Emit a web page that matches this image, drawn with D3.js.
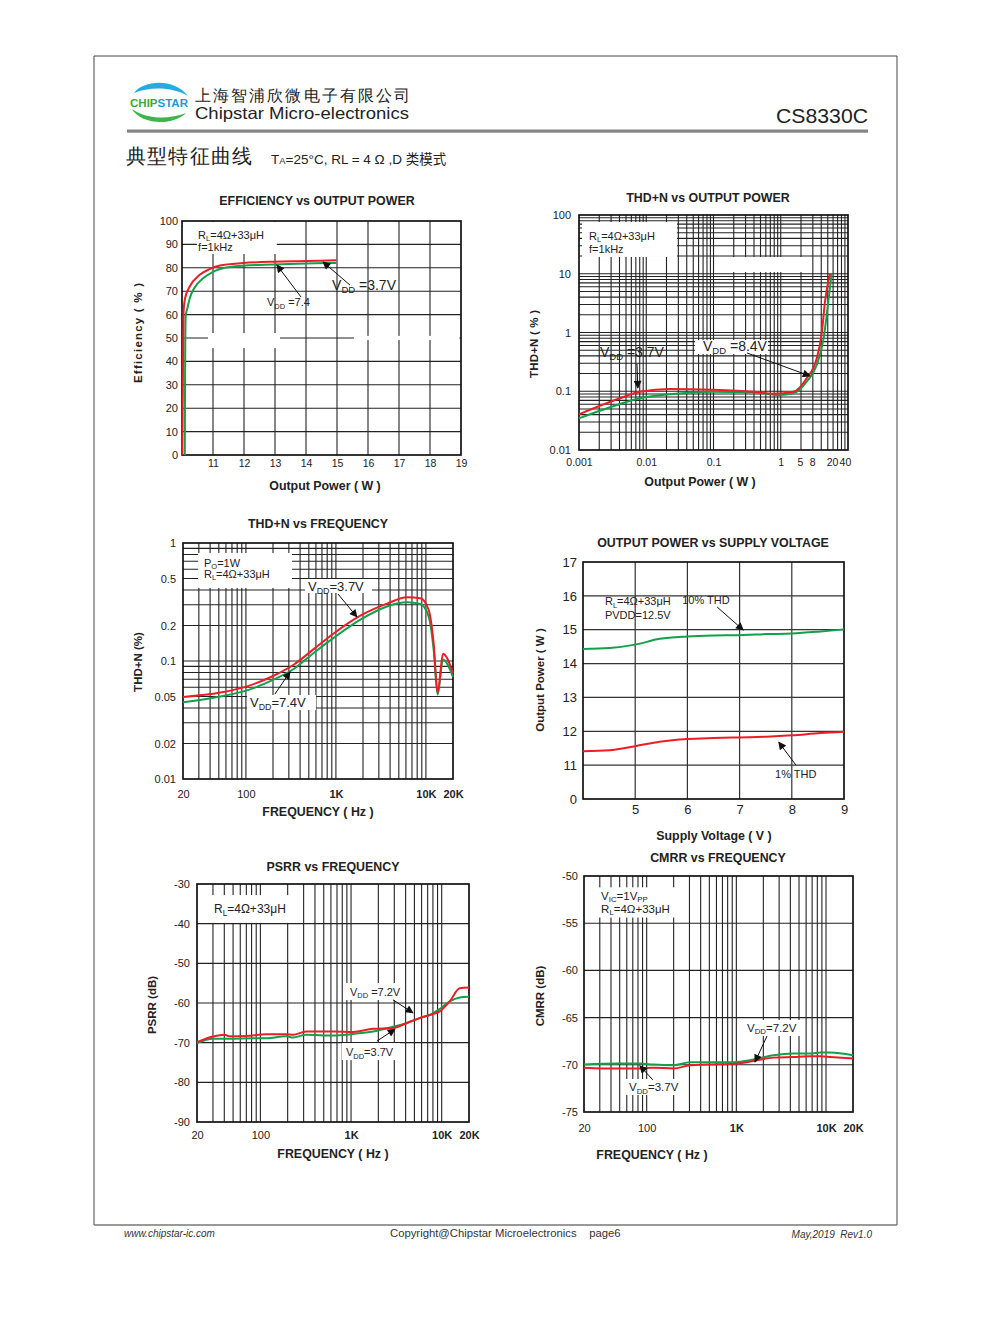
<!DOCTYPE html>
<html><head><meta charset="utf-8">
<script src="https://cdn.jsdelivr.net/npm/d3@7"></script>
<style>body{margin:0;background:#fff}svg{display:block}text{font-family:"Liberation Sans",Arial,sans-serif}</style>
</head><body><svg id="c" width="991" height="1320"></svg>
<script>
// ---------- DATA ----------
// Chart 1: Efficiency vs Output Power
const effXTicks = [11,12,13,14,15,16,17,18,19];
const effYTicks = [0,10,20,30,40,50,60,70,80,90,100];
const effRed = [[10.01,0],[10.03,35],[10.05,61],[10.1,67],[10.25,72],[10.57,77],[10.89,79.4],[11.22,81],[11.97,82],[12.94,82.6],[14.0,82.9],[14.98,83.2]];
const effGreen = [[10.09,0],[10.1,35],[10.12,59.6],[10.17,62.5],[10.25,67],[10.41,71.6],[10.68,75.5],[11.0,78.3],[11.42,80.1],[11.97,80.9],[12.94,81.4],[14.0,81.8],[14.98,82.1]];

// Chart 2: THD+N vs Output Power
const thdpXTicks = [0.001,0.01,0.1,1,1.93,2.92,5.78,9.0];
const thdpXLabels = ["0.001","0.01","0.1","1","5","8","20","40"];
const thdpYTicks = [0.01,0.1,1,10,100];
const thdpYLabels = ["0.01","0.1","1","10","100"];
const thdpRed = [[0.001,0.0405],[0.00407,0.0759],[0.00807,0.098],[0.0225,0.109],[0.094,0.106],[0.391,0.098],[0.774,0.0908],[1.54,0.098],[2.43,0.166],[3.43,0.364],[4.07,0.969],[4.55,3.34],[5.4,10.2]];
const thdpGreen = [[0.001,0.0346],[0.00407,0.0607],[0.00807,0.0759],[0.0225,0.0887],[0.094,0.098],[0.391,0.096],[0.975,0.0863],[1.54,0.0922],[2.43,0.146],[3.43,0.28],[4.34,0.796],[5.09,3.34],[5.72,10.2]];

// Chart 3: THD+N vs Frequency
const freqTicks = [20,100,1000,10000,20000];
const freqLabels = ["20","100","1K","10K","20K"];
const thdfYTicks = [0.01,0.02,0.05,0.1,0.2,0.5,1];
const thdfYLabels = ["0.01","0.02","0.05","0.1","0.2","0.5","1"];
const thdfRed = [[20,0.0495],[52,0.054],[103,0.061],[203,0.075],[339,0.093],[566,0.126],[944,0.171],[1867,0.242],[3696,0.306],[6170,0.347],[8670,0.341],[10720,0.272],[12190,0.142],[13500,0.054],[15480,0.115],[20000,0.079]];
const thdfGreen = [[20,0.0447],[52,0.050],[103,0.0564],[203,0.0695],[339,0.0855],[566,0.117],[944,0.157],[1867,0.224],[3696,0.29],[6170,0.314],[8670,0.304],[10720,0.239],[12190,0.125],[13500,0.0519],[15480,0.103],[20000,0.073]];

// Chart 4: Output Power vs Supply Voltage
const opXTicks = [5,6,7,8,9];
const opYTicks = [10,11,12,13,14,15,16,17];
const opYLabels = ["0","11","12","13","14","15","16","17"];
const opVolt = [4,4.51,5.0,5.47,6.0,6.5,7.0,7.52,8.0,8.55,9.0];
const op10 = [14.43,14.46,14.56,14.73,14.8,14.83,14.84,14.87,14.89,14.95,15.01];
const op1 = [11.41,11.44,11.56,11.69,11.77,11.80,11.82,11.84,11.88,11.95,11.99];

// Chart 5: PSRR vs Frequency
const psrrYTicks = [-90,-80,-70,-60,-50,-40,-30];
const psrrRed = [[20,-69.86],[30,-68.43],[40.4,-68.0],[45.8,-68.4],[70,-68.3],[116,-67.9],[193,-67.9],[229,-68.0],[321,-67.2],[633,-67.2],[1052,-67.3],[1747,-66.5],[2903,-66.3],[4074,-65.1],[5714,-63.8],[8017,-62.8],[9500,-62.1],[12250,-59.6],[15780,-56.3],[20000,-56.1]];
const psrrGreen = [[20,-70.1],[30,-69.0],[45.8,-69.0],[84,-68.9],[116,-68.9],[193,-68.4],[229,-68.7],[321,-68.0],[633,-68.2],[1052,-67.8],[1747,-67.2],[2903,-66.0],[4074,-65.1],[5714,-63.8],[8017,-62.6],[9500,-61.5],[12250,-59.6],[15780,-58.6],[20000,-58.4]];

// Chart 6: CMRR vs Frequency
const cmrrYTicks = [-75,-70,-65,-60,-55,-50];
const cmrrGreen = [[20,-69.98],[46,-69.87],[84,-69.87],[119,-69.98],[199,-70.05],[305,-69.73],[469,-69.73],[929,-69.73],[1555,-69.45],[2601,-68.99],[4350,-68.81],[6672,-68.81],[8630,-68.7],[11160,-68.7],[20000,-68.99]];
const cmrrRed = [[20,-70.3],[46,-70.4],[84,-70.4],[119,-70.3],[199,-70.4],[305,-70.05],[469,-69.98],[929,-69.9],[1555,-69.6],[2601,-69.24],[4350,-69.17],[6672,-69.1],[8630,-69.1],[11160,-69.17],[20000,-69.34]];

// ---------- DRAW ----------
const RED = "#ee1d25", GREEN = "#13a04a";
const svg = d3.select("#c");
const defs = svg.append("defs");
defs.append("marker").attr("id","ah").attr("viewBox","0 0 10 10").attr("refX",9).attr("refY",5)
  .attr("markerWidth",10).attr("markerHeight",8).attr("markerUnits","userSpaceOnUse").attr("orient","auto")
  .append("path").attr("d","M0,0L10,5L0,10Z").attr("fill","#111");

function rich(g, x, y, str, size, opt){
  opt = opt || {};
  const t = g.append("text").attr("x",x).attr("y",y).attr("font-size",size)
    .attr("text-anchor",opt.anchor||"start").attr("font-weight",opt.weight||"normal")
    .attr("fill",opt.fill||"#222");
  const parts = str.split(/(_\{[^}]*\})/).filter(s=>s.length);
  let shifted = false;
  parts.forEach(p=>{
    if (p.startsWith("_{")) {
      t.append("tspan").attr("font-size",size*0.68).attr("dy",size*0.22).text(p.slice(2,-1));
      shifted = true;
    } else {
      const ts = t.append("tspan").text(p);
      if (shifted) { ts.attr("dy",-size*0.22); shifted = false; }
    }
  });
  return t;
}

function chart(o){
  const g = svg.append("g");
  const x = o.x, y = o.y;
  const [x0,x1] = x.range(), [y0,y1] = y.range();
  g.append("g").selectAll("line").data(o.gridX).join("line")
    .attr("x1",d=>x(d)).attr("x2",d=>x(d)).attr("y1",y0).attr("y2",y1)
    .attr("stroke",o.gridColor||"#222").attr("stroke-width",o.gridW||1.1);
  g.append("g").selectAll("line").data(o.gridY).join("line")
    .attr("y1",d=>y(d)).attr("y2",d=>y(d)).attr("x1",x0).attr("x2",x1)
    .attr("stroke",o.gridColor||"#222").attr("stroke-width",o.gridW||1.1);
  (o.boxes||[]).forEach(b=>{
    g.append("rect").attr("x",x(b[0])).attr("y",y(b[1])).attr("width",x(b[2])-x(b[0])).attr("height",y(b[3])-y(b[1])).attr("fill","#fff");
  });
  g.append("rect").attr("x",x0).attr("y",y1).attr("width",x1-x0).attr("height",y0-y1)
    .attr("fill","none").attr("stroke","#111").attr("stroke-width",1.7);
  const line = d3.line().x(d=>x(d[0])).y(d=>y(d[1])).curve(d3.curveMonotoneX);
  o.series.forEach(s=>{
    g.append("path").attr("d",line(s.data)).attr("fill","none").attr("stroke",s.color).attr("stroke-width",2);
  });
  const ax = g.append("g").attr("transform",`translate(0,${y0})`)
    .call(d3.axisBottom(x).tickValues(o.xTicks).tickFormat((d,i)=>o.xLabels[i]).tickSize(0).tickPadding(o.xPad));
  ax.select(".domain").remove();
  ax.selectAll("text").attr("font-size",o.xFont||11).attr("fill","#222")
    .attr("font-family","Liberation Sans, Arial, sans-serif")
    .attr("font-weight",(d,i)=>o.xBold && o.xBold[i] ? "bold":"normal");
  const ay = g.append("g").attr("transform",`translate(${x0},0)`)
    .call(d3.axisLeft(y).tickValues(o.yTicks).tickFormat((d,i)=>o.yLabels[i]).tickSize(0).tickPadding(o.yPad));
  ay.select(".domain").remove();
  ay.selectAll("text").attr("font-size",o.yFont||11).attr("fill","#222")
    .attr("font-family","Liberation Sans, Arial, sans-serif");
  g.append("text").attr("x",o.title[1]).attr("y",o.title[2]).attr("text-anchor","middle")
    .attr("font-size",12.4).attr("font-weight","bold").attr("fill","#222").text(o.title[0]);
  g.append("text").attr("x",o.xTitle[1]).attr("y",o.xTitle[2]).attr("text-anchor","middle")
    .attr("font-size",12.4).attr("font-weight","bold").attr("fill","#222").attr("xml:space","preserve").text(o.xTitle[0]);
  const yt = g.append("text").attr("transform",`translate(${o.yTitle[1]},${o.yTitle[2]}) rotate(-90)`).attr("text-anchor","middle")
    .attr("font-size",11.5).attr("font-weight","bold").attr("fill","#222").text(o.yTitle[0]);
  if (o.yTitle[3]) yt.attr("textLength",o.yTitle[3]).attr("lengthAdjust","spacing");
  (o.notes||[]).forEach(n=>rich(g, x(n.x), y(n.y), n.t, n.s||11));
  (o.arrows||[]).forEach(a=>{
    g.append("line").attr("x1",x(a[0])).attr("y1",y(a[1])).attr("x2",x(a[2])).attr("y2",y(a[3]))
      .attr("stroke","#111").attr("stroke-width",1).attr("marker-end","url(#ah)");
  });
}

function logGrid(sc){ const [a,b]=sc.domain(); return sc.ticks().filter(v=>v>a*1.0001 && v<b*0.9999); }

// ---- Chart 1
{
  const x = d3.scaleLinear().domain([10,19]).range([182,461]);
  const y = d3.scaleLinear().domain([0,100]).range([455,221]);
  chart({x,y,gridX:effXTicks.slice(0,-1),gridY:effYTicks.slice(1,-1),
    boxes:[[10.48,99.6,13.06,85.9],[10.84,52.1,13.16,45.7],[15.55,50.9,18.95,49.1]],
    series:[{data:effGreen,color:GREEN},{data:effRed,color:RED}],
    xTicks:effXTicks,xLabels:effXTicks.map(String),xPad:5,xFont:10.5,
    yTicks:effYTicks,yLabels:effYTicks.map(String),yPad:4,yFont:11,
    title:["EFFICIENCY vs OUTPUT POWER",317,205],xTitle:["Output Power ( W )",325,490],yTitle:["Efficiency ( % )",142,333,100],
    notes:[{x:10.52,y:92.5,t:"R_{L}=4Ω+33μH"},{x:10.52,y:87,t:"f=1kHz"},
           {x:12.74,y:63.5,t:"V_{DD} =7.4",s:11},{x:14.84,y:70.5,t:"V_{DD} =3.7V",s:14}],
    arrows:[[13.84,67.5,13.06,81.2],[15.42,72.6,14.55,82.5]]});
}
// ---- Chart 2
{
  const x = d3.scaleLog().domain([0.001,10]).range([579,848]);
  const y = d3.scaleLog().domain([0.01,100]).range([450,215]);
  chart({x,y,gridX:logGrid(x),gridY:logGrid(y),
    boxes:[[0.00111,76,0.0286,19.3],[0.195,19.3,2.72,10.7],[0.053,0.744,0.645,0.43]],
    series:[{data:thdpGreen,color:GREEN},{data:thdpRed,color:RED}],
    xTicks:thdpXTicks,xLabels:thdpXLabels,xPad:9,xFont:10.5,
    yTicks:thdpYTicks,yLabels:thdpYLabels,yPad:8,yFont:11,
    title:["THD+N vs OUTPUT POWER",708,202],xTitle:["Output Power ( W )",700,486],yTitle:["THD+N ( % )",538,344,68],
    notes:[{x:0.00141,y:37.5,t:"R_{L}=4Ω+33μH"},{x:0.00141,y:22.5,t:"f=1kHz"},
           {x:0.00205,y:0.383,t:"V_{DD} =3.7V",s:14},{x:0.0698,y:0.484,t:"V_{DD} =8.4V",s:14}],
    arrows:[[0.00728,0.291,0.0075,0.1135],[0.315,0.448,2.72,0.182]]});
}
// ---- Chart 3
{
  const x = d3.scaleLog().domain([20,20000]).range([183,453]);
  const y = d3.scaleLog().domain([0.01,1]).range([779,543]);
  chart({x,y,gridX:logGrid(x),gridY:logGrid(y),
    boxes:[[29.4,0.823,325,0.416],[454,0.495,2518,0.377],[103,0.0515,601,0.0384]],
    series:[{data:thdfGreen,color:GREEN},{data:thdfRed,color:RED}],
    xTicks:freqTicks,xLabels:freqLabels,xPad:11,xFont:11,xBold:[0,0,1,1,1],
    yTicks:thdfYTicks,yLabels:thdfYLabels,yPad:7,yFont:11,
    title:["THD+N vs FREQUENCY",318,528],xTitle:["FREQUENCY ( Hz )",318,816],yTitle:["THD+N (%)",142,662],
    notes:[{x:34.2,y:0.626,t:"P_{O}=1W"},{x:34.2,y:0.505,t:"R_{L}=4Ω+33μH"},
           {x:490,y:0.392,t:"V_{DD}=3.7V",s:13},{x:111,y:0.0405,t:"V_{DD}=7.4V",s:13}],
    arrows:[[1054,0.37,1714,0.236],[210,0.0525,309,0.0807]]});
}
// ---- Chart 4
{
  const x = d3.scaleLinear().domain([4,9]).range([583,844]);
  const y = d3.scaleLinear().domain([10,17]).range([799,562]);
  chart({x,y,gridX:opXTicks.slice(0,-1),gridY:opYTicks.slice(1,-1),gridColor:"#333",gridW:1.2,
    series:[{data:opVolt.map((v,i)=>[v,op10[i]]),color:GREEN},{data:opVolt.map((v,i)=>[v,op1[i]]),color:RED}],
    xTicks:opXTicks,xLabels:opXTicks.map(String),xPad:6,xFont:13,
    yTicks:opYTicks,yLabels:opYLabels,yPad:6,yFont:13,
    title:["OUTPUT POWER vs SUPPLY VOLTAGE",713,547],xTitle:["Supply Voltage ( V )",714,840],yTitle:["Output Power ( W )",544,680],
    notes:[{x:4.42,y:15.72,t:"R_{L}=4Ω+33μH"},{x:5.9,y:15.75,t:"10% THD"},{x:4.42,y:15.32,t:"PVDD=12.5V"},{x:7.68,y:10.62,t:"1% THD"}],
    arrows:[[6.57,15.67,7.07,14.99],[8.08,11.0,7.75,11.68]]});
}
// ---- Chart 5
{
  const x = d3.scaleLog().domain([20,20000]).range([197,469]);
  const y = d3.scaleLinear().domain([-90,-30]).range([1122,884]);
  chart({x,y,gridX:logGrid(x),gridY:psrrYTicks.slice(1,-1),
    boxes:[[20.5,-32.8,288,-39.8],[857,-54.96,3937,-59.24],[795,-70.1,3470,-74.4]],
    series:[{data:psrrGreen,color:GREEN},{data:psrrRed,color:RED}],
    xTicks:freqTicks,xLabels:freqLabels,xPad:9,xFont:11,xBold:[0,0,1,1,1],
    yTicks:psrrYTicks,yLabels:psrrYTicks.map(String),yPad:7,yFont:11,
    title:["PSRR vs FREQUENCY",333,871],xTitle:["FREQUENCY ( Hz )",333,1158],yTitle:["PSRR (dB)",156,1005],
    notes:[{x:30.8,y:-37.3,t:"R_{L}=4Ω+33μH",s:12},{x:973,y:-58.2,t:"V_{DD} =7.2V",s:11},{x:879,y:-73.4,t:"V_{DD}=3.7V",s:11}],
    arrows:[[2904,-59.2,4820,-62.5],[1932,-69.6,3055,-66.6]]});
}
// ---- Chart 6
{
  const x = d3.scaleLog().domain([20,20000]).range([584,853]);
  const y = d3.scaleLinear().domain([-75,-50]).range([1112,876]);
  chart({x,y,gridX:logGrid(x),gridY:cmrrYTicks.slice(1,-1),
    boxes:[[20.5,-51.2,218,-54.4],[1186,-65.25,5534,-66.95],[58.7,-71.5,282,-73.2]],
    series:[{data:cmrrGreen,color:GREEN},{data:cmrrRed,color:RED}],
    xTicks:freqTicks,xLabels:freqLabels,xPad:12,xFont:11,xBold:[0,0,1,1,1],
    yTicks:cmrrYTicks,yLabels:cmrrYTicks.map(String),yPad:6,yFont:11,
    title:["CMRR vs FREQUENCY",718,862],xTitle:["FREQUENCY ( Hz )",652,1159],yTitle:["CMRR (dB)",544,996],
    notes:[{x:31,y:-52.5,t:"V_{IC}=1V_{PP}",s:11.5},{x:31,y:-53.9,t:"R_{L}=4Ω+33μH",s:11.5},
           {x:1315,y:-66.5,t:"V_{DD}=7.2V",s:11.5},{x:63.5,y:-72.8,t:"V_{DD}=3.7V",s:11.5}],
    arrows:[[2197,-66.95,1615,-69.7],[117,-71.6,84,-70.1]]});
}

// ---------- PAGE DECORATION ----------
const page = svg.append("g");
page.append("line").attr("x1",94).attr("x2",897).attr("y1",56).attr("y2",56).attr("stroke","#444").attr("stroke-width",1);
page.append("line").attr("x1",94).attr("x2",94).attr("y1",56).attr("y2",1225).attr("stroke","#444").attr("stroke-width",1);
page.append("line").attr("x1",897).attr("x2",897).attr("y1",56).attr("y2",1225).attr("stroke","#444").attr("stroke-width",1);
page.append("line").attr("x1",94).attr("x2",897).attr("y1",1225).attr("y2",1225).attr("stroke","#777").attr("stroke-width",1.5);
page.append("rect").attr("x",127).attr("y",129.5).attr("width",741).attr("height",3.2).attr("fill","#858585");
// logo
page.append("path").attr("d","M134,93 C144,80 174,78 188,96 C174,87 150,86 134,93 Z").attr("fill","#27a9e1");
page.append("path").attr("d","M132,109 C140,124 172,127 186,113 C168,120 146,119 132,109 Z").attr("fill","#3db54a");
const lg = page.append("text").attr("x",130).attr("y",107).attr("font-size",11).attr("font-weight","bold")
  .attr("textLength",58).attr("lengthAdjust","spacingAndGlyphs");
lg.append("tspan").attr("fill","#3aaa35").text("CHIP");
lg.append("tspan").attr("fill","#1e9ad6").text("STAR");
page.append("text").attr("x",195).attr("y",101).attr("font-size",15.5).attr("fill","#222")
  .attr("font-family","Noto Sans CJK SC").attr("textLength",215).attr("lengthAdjust","spacing").text("上海智浦欣微电子有限公司");
page.append("text").attr("x",195).attr("y",119).attr("font-size",16.5).attr("fill","#222")
  .attr("textLength",214).attr("lengthAdjust","spacingAndGlyphs").text("Chipstar Micro-electronics");
page.append("text").attr("x",868).attr("y",123).attr("font-size",20).attr("fill","#222").attr("text-anchor","end")
  .attr("textLength",92).attr("lengthAdjust","spacingAndGlyphs").text("CS8330C");
page.append("text").attr("x",126).attr("y",163).attr("font-size",20).attr("fill","#222")
  .attr("font-family","Noto Sans CJK SC").attr("textLength",126).text("典型特征曲线");
const sub = page.append("text").attr("x",271).attr("y",164).attr("font-size",13.5).attr("fill","#222");
sub.append("tspan").text("T");
sub.append("tspan").attr("font-size",9.5).text("A");
sub.append("tspan").text("=25°C, RL = 4 Ω ,D ");
sub.append("tspan").attr("font-family","Noto Sans CJK SC").text("类模式");
// footer
page.append("text").attr("x",124).attr("y",1237).attr("font-size",10).attr("font-style","italic").attr("fill","#333").text("www.chipstar-ic.com");
page.append("text").attr("x",390).attr("y",1237).attr("font-size",11.3).attr("fill","#333")
  .attr("xml:space","preserve").text("Copyright@Chipstar Microelectronics    page6");
page.append("text").attr("x",872).attr("y",1238).attr("font-size",10).attr("font-style","italic").attr("fill","#333")
  .attr("text-anchor","end").attr("xml:space","preserve").text("May,2019  Rev1.0");
</script></body></html>
